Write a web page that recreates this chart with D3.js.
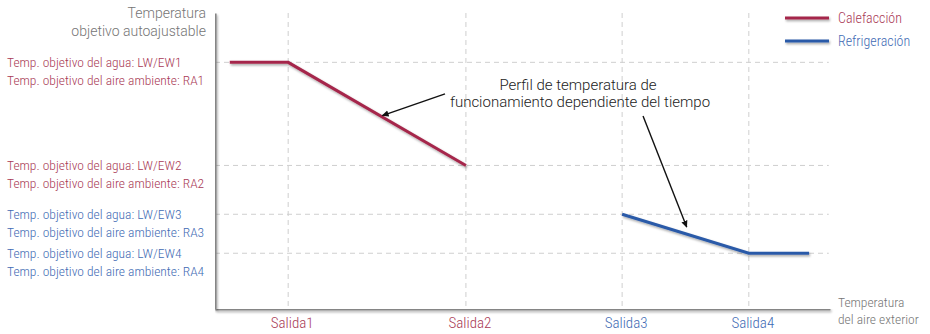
<!DOCTYPE html>
<html>
<head>
<meta charset="utf-8">
<script src="https://cdn.jsdelivr.net/npm/d3@7"></script>
<style>
  html, body { margin: 0; padding: 0; background: #fff; }
  svg { display: block; }
  text { font-family: Roboto, "Liberation Sans", Arial, sans-serif; }
  .narrow { font-family: "Liberation Sans Narrow", "Roboto Condensed", "DejaVu Sans Condensed", Roboto, sans-serif; font-weight: 300; }
</style>
</head>
<body>
<svg id="chart" width="930" height="334"></svg>
<script>
// Outdoor-temperature set points (x) and the four target temperature levels (y)
const categories = ["Salida1", "Salida2", "Salida3", "Salida4"];
const categoryPos = [11.9, 40.8, 66.2, 86.8];
const categoryMode = ["heat", "heat", "cool", "cool"];

const levelValues = [50, 29.1, 19.2, 11.3];
const waterLabels = [
  "Temp. objetivo del agua: LW/EW1",
  "Temp. objetivo del agua: LW/EW2",
  "Temp. objetivo del agua: LW/EW3",
  "Temp. objetivo del agua: LW/EW4"
];
const airLabels = [
  "Temp. objetivo del aire ambiente: RA1",
  "Temp. objetivo del aire ambiente: RA2",
  "Temp. objetivo del aire ambiente: RA3",
  "Temp. objetivo del aire ambiente: RA4"
];
const levelMode = ["heat", "heat", "cool", "cool"];

// Heating curve: flat at LW/EW1 until Salida1, then down to LW/EW2 at Salida2
const heatingX = [2.4, 11.9, 40.8];
const heatingY = [50, 50, 29.1];
// Cooling curve: from LW/EW3 at Salida3 down to LW/EW4 at Salida4, then flat
const coolingX = [66.2, 86.8, 96.6];
const coolingY = [19.2, 11.3, 11.3];

const seriesNames = ["Calefacción", "Refrigeración"];

const colors = {
  heatLine: "#a5284b", coolLine: "#2b5aa8",
  heatText: "#a93a56", coolText: "#3f6bb4",
  axis: "#858585", grid: "#cfcfcf", title: "#757575"
};

const W = 930, H = 334;
const svg = d3.select("#chart");

// soft drop shadow under the data lines and axes (user-space region so
// perfectly horizontal/vertical lines are not clipped away)
const defs = svg.append("defs");
const shadow = defs.append("filter").attr("id", "shadow")
  .attr("filterUnits", "userSpaceOnUse")
  .attr("x", 0).attr("y", 0).attr("width", W).attr("height", H);
shadow.append("feDropShadow").attr("dx", 1).attr("dy", 1.6)
  .attr("stdDeviation", 0.9).attr("flood-color", "#000").attr("flood-opacity", 0.35);

defs.append("marker").attr("id", "arrow")
  .attr("viewBox", "0 0 10 10").attr("refX", 9).attr("refY", 5)
  .attr("markerWidth", 7).attr("markerHeight", 7)
  .attr("markerUnits", "userSpaceOnUse").attr("orient", "auto")
  .append("path").attr("d", "M0,0.5 L10,5 L0,9.5 Z").attr("fill", "#111");

const x = d3.scaleLinear().domain([0, 100]).range([215, 830]);
const y = d3.scaleLinear().domain([0, 60]).range([309, 13]);

// grid
const grid = svg.append("g");
grid.selectAll("line.h").data(levelValues).join("line")
  .attr("x1", x(0)).attr("x2", x(99.8))
  .attr("y1", d => y(d)).attr("y2", d => y(d))
  .attr("stroke", colors.grid).attr("stroke-width", 1).attr("stroke-dasharray", "5,4");
grid.selectAll("line.v").data(categoryPos).join("line")
  .attr("x1", d => x(d)).attr("x2", d => x(d))
  .attr("y1", y(60)).attr("y2", y(0))
  .attr("stroke", colors.grid).attr("stroke-width", 1).attr("stroke-dasharray", "5,4");

// axes (domain lines only; labels are drawn below)
const xAxis = svg.append("g").attr("transform", `translate(0,${y(0)})`)
  .call(d3.axisBottom(x).tickValues([]).tickSizeOuter(0));
const yAxis = svg.append("g").attr("transform", `translate(${x(0)},0)`)
  .call(d3.axisLeft(y).tickValues([]).tickSizeOuter(0));
[xAxis, yAxis].forEach(g => g.select(".domain")
  .attr("stroke", colors.axis).attr("stroke-width", 2.2).attr("filter", "url(#shadow)"));

// x category labels
svg.append("g").selectAll("text").data(categories).join("text")
  .attr("x", (d, i) => x(categoryPos[i]) + 4)
  .attr("y", 328)
  .attr("text-anchor", "middle")
  .attr("class", "narrow")
  .attr("font-size", 15)
  .attr("fill", (d, i) => categoryMode[i] === "heat" ? colors.heatText : colors.coolText)
  .text(d => d);

// y level labels (two lines each)
const yl = svg.append("g");
levelValues.forEach((v, i) => {
  const c = levelMode[i] === "heat" ? colors.heatText : colors.coolText;
  yl.append("text").attr("class", "narrow").attr("x", 7).attr("y", y(v) + 4.5)
    .attr("font-size", 13.5).attr("fill", c).text(waterLabels[i]);
  yl.append("text").attr("class", "narrow").attr("x", 7).attr("y", y(v) + 22.5)
    .attr("font-size", 13.5).attr("fill", c).text(airLabels[i]);
});

// axis titles
const yTitle = svg.append("text").attr("text-anchor", "end").attr("font-size", 14)
  .attr("font-weight", 300).attr("fill", colors.title);
yTitle.append("tspan").attr("x", 206).attr("y", 18).text("Temperatura");
yTitle.append("tspan").attr("x", 206).attr("y", 36).text("objetivo autoajustable");

const xTitle = svg.append("text").attr("class", "narrow").attr("font-size", 13.5)
  .attr("fill", colors.title);
xTitle.append("tspan").attr("x", 838).attr("y", 307).text("Temperatura");
xTitle.append("tspan").attr("x", 838).attr("y", 324).text("del aire exterior");

// data lines
const line = d3.line().x(d => x(d[0])).y(d => y(d[1]));
svg.append("path").datum(d3.zip(heatingX, heatingY))
  .attr("d", line).attr("fill", "none").attr("stroke", colors.heatLine)
  .attr("stroke-width", 3).attr("filter", "url(#shadow)");
svg.append("path").datum(d3.zip(coolingX, coolingY))
  .attr("d", line).attr("fill", "none").attr("stroke", colors.coolLine)
  .attr("stroke-width", 3).attr("filter", "url(#shadow)");

// legend
const legend = svg.append("g");
seriesNames.forEach((name, i) => {
  const ly = 18 + i * 23;
  legend.append("line").attr("x1", 785).attr("x2", 829).attr("y1", ly).attr("y2", ly)
    .attr("stroke", i === 0 ? colors.heatLine : colors.coolLine)
    .attr("stroke-width", 3).attr("filter", "url(#shadow)");
  legend.append("text").attr("class", "narrow").attr("x", 838).attr("y", ly + 5)
    .attr("font-size", 14).attr("fill", i === 0 ? colors.heatText : colors.coolText)
    .text(name);
});

// annotation
const note = svg.append("text").attr("text-anchor", "middle").attr("font-size", 15)
  .attr("font-weight", 300).attr("fill", "#222");
note.append("tspan").attr("x", 578).attr("y", 90).text("Perfil de temperatura de");
note.append("tspan").attr("x", 580).attr("y", 107).text("funcionamiento dependiente del tiempo");

const arrows = [
  { from: [37.4, 43.6], to: [27.2, 39.2] },
  { from: [69.6, 39.1], to: [76.7, 16.6] }
];
svg.append("g").selectAll("line").data(arrows).join("line")
  .attr("x1", d => x(d.from[0])).attr("y1", d => y(d.from[1]))
  .attr("x2", d => x(d.to[0])).attr("y2", d => y(d.to[1]))
  .attr("stroke", "#111").attr("stroke-width", 1.4)
  .attr("marker-end", "url(#arrow)");
</script>
</body>
</html>
